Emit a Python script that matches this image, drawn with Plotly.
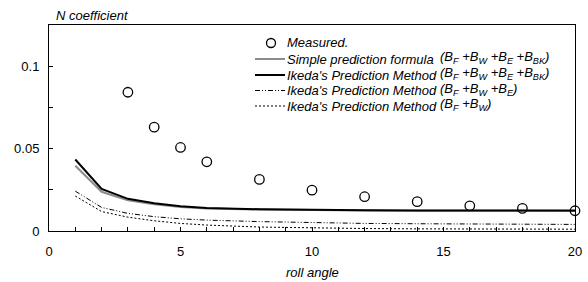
import plotly.graph_objects as go

# ---- data ----
x_meas = [3, 4, 5, 6, 8, 10, 12, 14, 16, 18, 20]
y_meas = [0.0842, 0.0630, 0.0507, 0.0420, 0.0313, 0.0248, 0.0208, 0.0178, 0.0153, 0.0137, 0.0123]

x_pred = [1, 2, 3, 4, 5, 6, 8, 10, 12, 14, 16, 18, 20]
y_simple = [0.0396, 0.0238, 0.0186, 0.0162, 0.0146, 0.0137, 0.0130, 0.0126, 0.0124, 0.0123, 0.0123, 0.0122, 0.0122]
y_ikeda_all = [0.0434, 0.0255, 0.0195, 0.0168, 0.0150, 0.0140, 0.0132, 0.0128, 0.0126, 0.0125, 0.0124, 0.0124, 0.0124]
y_ikeda_fwe = [0.0242, 0.0143, 0.0107, 0.0087, 0.0074, 0.0066, 0.0057, 0.0050, 0.0046, 0.0044, 0.0042, 0.0041, 0.0040]
y_ikeda_fw = [0.0212, 0.0118, 0.0084, 0.0062, 0.0046, 0.0036, 0.0024, 0.0018, 0.0015, 0.0013, 0.0012, 0.0011, 0.0011]

legend_names = ["Measured.", "Simple prediction formula", "Ikeda's Prediction Method",
                "Ikeda's Prediction Method", "Ikeda's Prediction Method"]
legend_formulas = ["",
                   "(B<sub>F</sub> +B<sub>W</sub> +B<sub>E</sub> +B<sub>BK</sub>)",
                   "(B<sub>F</sub> +B<sub>W</sub> +B<sub>E</sub> +B<sub>BK</sub>)",
                   "(B<sub>F</sub> +B<sub>W</sub> +B<sub>E</sub>)",
                   "(B<sub>F</sub> +B<sub>W</sub>)"]

x_ticks = [0, 5, 10, 15, 20]
y_ticks = [0, 0.05, 0.1]
y_ticktext = ["0", "0.05", "0.1"]

FONT = "Liberation Sans, Arial, sans-serif"
DASHDOT = "5px,2px,1px,2px,1px,2px"
DOT = "2px,2px"

styles = [
    None,
    dict(color="#8c8c8c", width=2, dash="solid"),
    dict(color="black", width=2, dash="solid"),
    dict(color="black", width=1, dash=DASHDOT),
    dict(color="black", width=1, dash=DOT),
]

fig = go.Figure()
fig.add_trace(go.Scatter(x=x_pred, y=y_ikeda_fw, mode="lines", line=styles[4], showlegend=False))
fig.add_trace(go.Scatter(x=x_pred, y=y_ikeda_fwe, mode="lines", line=styles[3], showlegend=False))
fig.add_trace(go.Scatter(x=x_pred, y=y_simple, mode="lines", line=styles[1], showlegend=False))
fig.add_trace(go.Scatter(x=x_pred, y=y_ikeda_all, mode="lines", line=styles[2], showlegend=False))
fig.add_trace(go.Scatter(x=x_meas, y=y_meas, mode="markers",
                         marker=dict(symbol="circle-open", size=9.5, color="black",
                                     line=dict(width=1.3, color="black")),
                         showlegend=False, cliponaxis=False))

# ---- manual legend (paper coords) ----
L, B, W, H = 49, 231, 526, 206
def px(xp):
    return (xp - L) / W
def py(yp):
    return (B - yp) / H

rows = [43, 59, 75, 90.5, 106]
shapes = []
annotations = []
for i, (name, form) in enumerate(zip(legend_names, legend_formulas)):
    yy = py(rows[i])
    if i == 0:
        shapes.append(dict(type="circle", xref="paper", yref="paper",
                           xsizemode="pixel", ysizemode="pixel",
                           xanchor=px(271), yanchor=yy,
                           x0=-4.5, x1=4.5, y0=-4.5, y1=4.5,
                           line=dict(color="black", width=1.3)))
    else:
        st = styles[i]
        shapes.append(dict(type="line", xref="paper", yref="paper",
                           x0=px(255), x1=px(285), y0=yy, y1=yy,
                           line=dict(color=st["color"], width=st["width"], dash=st["dash"])))
    annotations.append(dict(text=name, xref="paper", yref="paper", x=px(285), y=yy,
                            xanchor="left", yanchor="middle", showarrow=False,
                            font=dict(family=FONT, size=13, style="italic", color="black")))
    if form:
        annotations.append(dict(text=form, xref="paper", yref="paper", x=px(438), y=yy + 0.005,
                                xanchor="left", yanchor="middle", showarrow=False,
                                font=dict(family=FONT, size=13, style="italic", color="black")))

annotations.append(dict(text="N coefficient", xref="paper", yref="paper", x=px(54), y=py(15),
                        xanchor="left", yanchor="middle", showarrow=False,
                        font=dict(family=FONT, size=13, style="italic", color="black")))
annotations.append(dict(text="roll angle", xref="paper", yref="paper", x=0.5, y=py(272),
                        xanchor="center", yanchor="middle", showarrow=False,
                        font=dict(family=FONT, size=13, style="italic", color="black")))

fig.update_layout(
    width=588, height=282,
    margin=dict(l=49, r=13, t=25, b=51, autoexpand=False),
    paper_bgcolor="white", plot_bgcolor="white",
    font=dict(family=FONT, size=13, color="black"),
    shapes=shapes, annotations=annotations,
    showlegend=False,
)
fig.update_xaxes(range=[0, 20], tickvals=x_ticks, ticks="inside", ticklen=4, tickcolor="black",
                 showline=True, linecolor="black", linewidth=1, mirror=True, showgrid=False,
                 zeroline=False, ticklabelstandoff=8, automargin=False,
                 minor=dict(dtick=1, ticks="inside", ticklen=4, tickcolor="black", showgrid=False))
fig.update_yaxes(range=[0, 0.125], tickvals=y_ticks, ticktext=y_ticktext, ticks="inside", ticklen=4,
                 tickcolor="black", showline=True, linecolor="black", linewidth=1, mirror=True,
                 showgrid=False, zeroline=False, ticklabelstandoff=6, automargin=False,
                 minor=dict(tickvals=[0.025, 0.075], ticks="inside", ticklen=4, tickcolor="black",
                            showgrid=False))

fig.write_html("out.html", config={"displayModeBar": False},
               post_script="document.body.style.margin='0';document.body.style.padding='0';"
                           "document.body.style.overflow='hidden';")
